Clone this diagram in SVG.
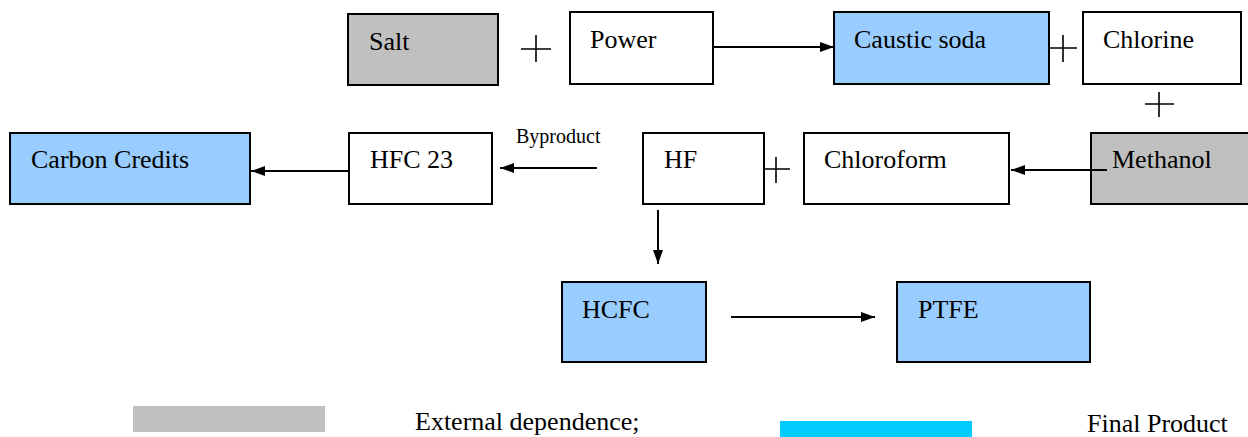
<svg xmlns="http://www.w3.org/2000/svg" width="1248" height="437" viewBox="0 0 1248 437">
<style>
.box{stroke:#000;stroke-width:2}
.ext{fill:#C0C0C0}
.fin{fill:#99CCFF}
.plain{fill:#fff}
.t{font-family:'Liberation Serif','Times New Roman',serif;font-size:26px;fill:#000}
.small{font-size:20px}
.ln{stroke:#000;stroke-width:2;fill:none}
.plus{stroke:#000;stroke-width:1.6;fill:none}
</style>
<defs>
<marker id="ah" viewBox="0 0 14 10" refX="14" refY="5" markerWidth="14" markerHeight="10" markerUnits="userSpaceOnUse" orient="auto">
<path d="M0,0 L14,5 L0,10 Z" fill="#000"/>
</marker>
</defs>
<rect width="1248" height="437" fill="#fff"/>
<g font-family="Liberation Serif, Times New Roman, serif">
<g id="salt"><rect class="box ext" x="348" y="14" width="150" height="71"/><text class="t" x="369" y="50">Salt</text></g>
<g id="power"><rect class="box plain" x="570" y="12" width="143" height="72"/><text class="t" x="590" y="48">Power</text></g>
<g id="caustic"><rect class="box fin" x="834" y="12" width="215" height="72"/><text class="t" x="854" y="48">Caustic soda</text></g>
<g id="chlorine"><rect class="box plain" x="1083" y="12" width="158" height="72"/><text class="t" x="1103" y="48">Chlorine</text></g>
<g id="carbon"><rect class="box fin" x="10" y="133" width="240" height="71"/><text class="t" x="31" y="168">Carbon Credits</text></g>
<g id="hfc23"><rect class="box plain" x="349" y="133" width="143" height="71"/><text class="t" x="370" y="168">HFC 23</text></g>
<g id="byproduct"><text class="t small" x="516" y="143">Byproduct</text></g>
<g id="hf"><rect class="box plain" x="643" y="133" width="121" height="71"/><text class="t" x="664" y="168">HF</text></g>
<g id="chloroform"><rect class="box plain" x="804" y="133" width="205" height="71"/><text class="t" x="824" y="168">Chloroform</text></g>
<g id="methanol"><rect class="box ext" x="1091" y="133" width="170" height="71"/><text class="t" x="1112" y="168">Methanol</text></g>
<g id="hcfc"><rect class="box fin" x="562" y="282" width="144" height="80"/><text class="t" x="582" y="318">HCFC</text></g>
<g id="ptfe"><rect class="box fin" x="897" y="282" width="193" height="80"/><text class="t" x="918" y="318">PTFE</text></g>
<g id="legend">
<rect x="133" y="406" width="192" height="26" fill="#C0C0C0"/>
<text class="t" x="415" y="430">External dependence;</text>
<rect x="780" y="421" width="192" height="16" fill="#00CCFF"/>
<text class="t" x="1087" y="432">Final Product</text>
</g>
</g>
<g id="connectors">
<line class="ln" x1="713" y1="47" x2="834" y2="47" marker-end="url(#ah)"/>
<line class="ln" x1="1107" y1="170" x2="1011" y2="170" marker-end="url(#ah)"/>
<line class="ln" x1="597" y1="168" x2="500" y2="168" marker-end="url(#ah)"/>
<line class="ln" x1="348" y1="171" x2="251" y2="171" marker-end="url(#ah)"/>
<line class="ln" x1="658" y1="210" x2="658" y2="264" marker-end="url(#ah)"/>
<line class="ln" x1="731" y1="317" x2="875" y2="317" marker-end="url(#ah)"/>
<path class="plus" d="M521,49 H551 M536,35 V62"/>
<path class="plus" d="M1049,48 H1077 M1063,35 V62"/>
<path class="plus" d="M1145,104 H1174 M1159,92 V117"/>
<path class="plus" d="M764,169 H790 M776,157 V183"/>
</g>
</svg>
